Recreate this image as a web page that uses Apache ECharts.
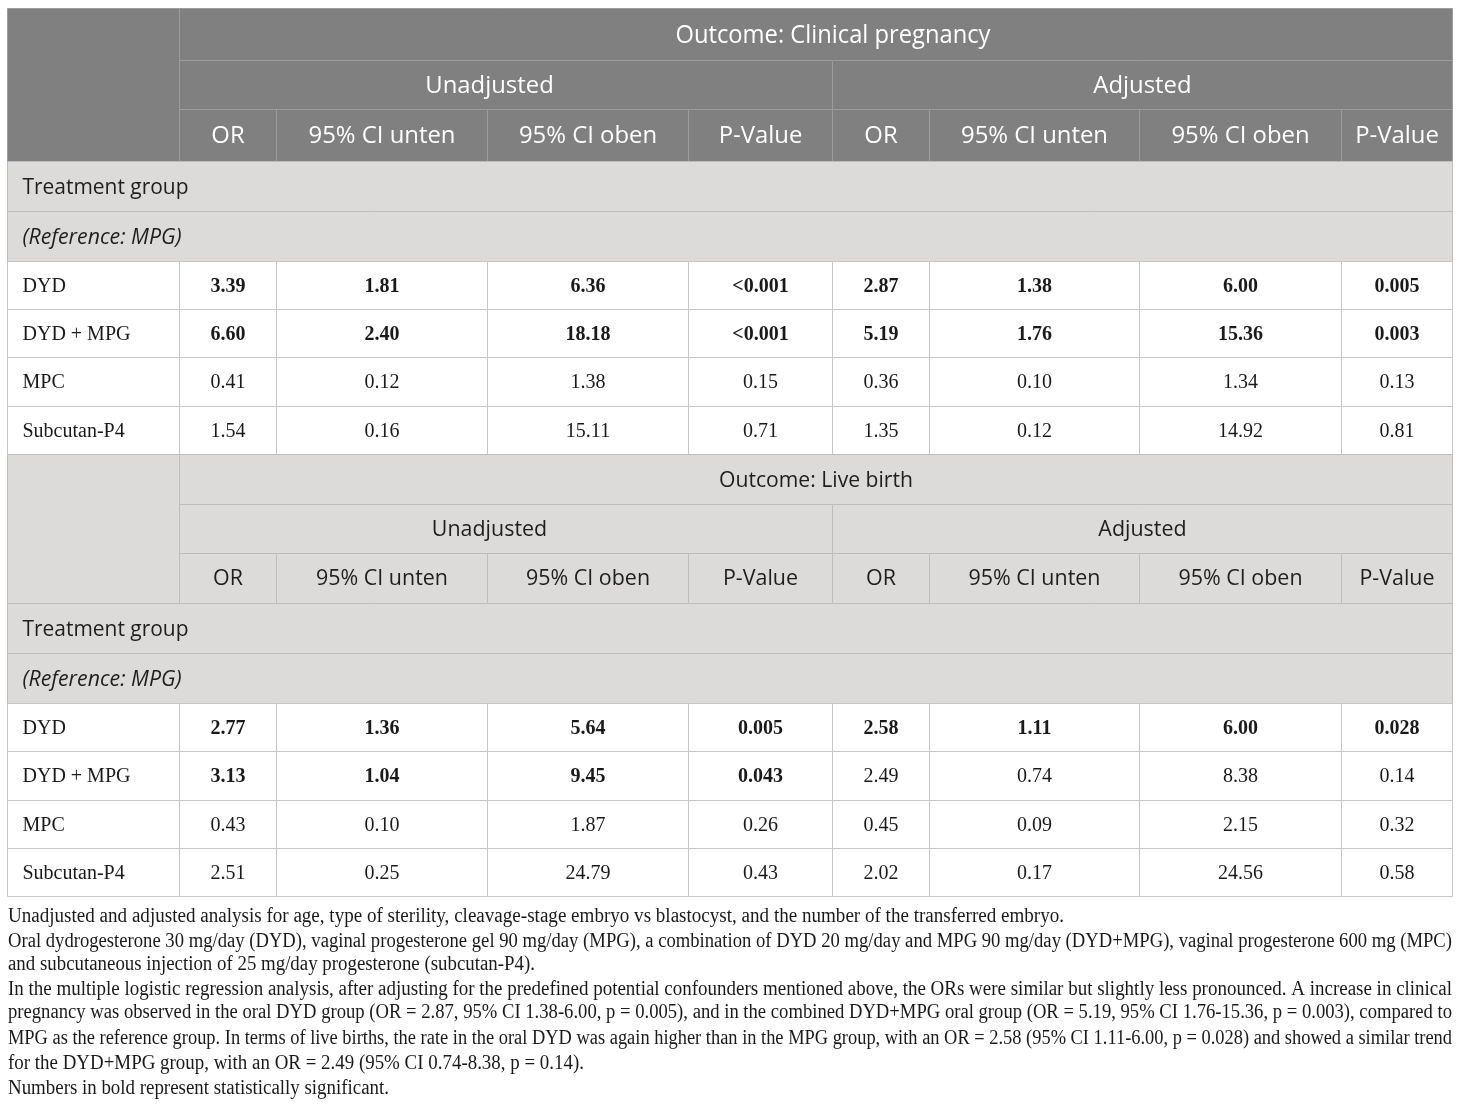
<!DOCTYPE html>
<html><head><meta charset="utf-8">
<script src="https://cdn.jsdelivr.net/npm/echarts@6/dist/echarts.min.js"></script>
<style>html,body{margin:0;padding:0;background:#fff}#c{width:1460px;height:1107px}</style>
</head><body><div id="c"></div>
<script>
// ---------------- data ----------------
const groups = ['DYD', 'DYD + MPG', 'MPC', 'Subcutan-P4'];
const statHeaders = ['OR', '95% CI unten', '95% CI oben', 'P-Value'];
const modelHeaders = ['Unadjusted', 'Adjusted'];
const outcomeTitles = ['Outcome: Clinical pregnancy', 'Outcome: Live birth'];
const sectionLabel = 'Treatment group';
const referenceLabel = '(Reference: MPG)';

// Outcome: Clinical pregnancy
const cpUnadjOR = [3.39, 6.60, 0.41, 1.54];
const cpUnadjLo = [1.81, 2.40, 0.12, 0.16];
const cpUnadjHi = [6.36, 18.18, 1.38, 15.11];
const cpUnadjP  = ['<0.001', '<0.001', '0.15', '0.71'];
const cpAdjOR   = [2.87, 5.19, 0.36, 1.35];
const cpAdjLo   = [1.38, 1.76, 0.10, 0.12];
const cpAdjHi   = [6.00, 15.36, 1.34, 14.92];
const cpAdjP    = ['0.005', '0.003', '0.13', '0.81'];
// Outcome: Live birth
const lbUnadjOR = [2.77, 3.13, 0.43, 2.51];
const lbUnadjLo = [1.36, 1.04, 0.10, 0.25];
const lbUnadjHi = [5.64, 9.45, 1.87, 24.79];
const lbUnadjP  = ['0.005', '0.043', '0.26', '0.43'];
const lbAdjOR   = [2.58, 2.49, 0.45, 2.02];
const lbAdjLo   = [1.11, 0.74, 0.09, 0.17];
const lbAdjHi   = [6.00, 8.38, 2.15, 24.56];
const lbAdjP    = ['0.028', '0.14', '0.32', '0.58'];
// statistically significant (bold)
const cpUnadjSig = [true, true, false, false];
const cpAdjSig   = [true, true, false, false];
const lbUnadjSig = [true, true, false, false];
const lbAdjSig   = [true, false, false, false];

const footnotes = [
  'Unadjusted and adjusted analysis for age, type of sterility, cleavage-stage embryo vs blastocyst, and the number of the transferred embryo.',
  'Oral dydrogesterone 30 mg/day (DYD), vaginal progesterone gel 90 mg/day (MPG), a combination of DYD 20 mg/day and MPG 90 mg/day (DYD+MPG), vaginal progesterone 600 mg (MPC)',
  'and subcutaneous injection of 25 mg/day progesterone (subcutan-P4).',
  'In the multiple logistic regression analysis, after adjusting for the predefined potential confounders mentioned above, the ORs were similar but slightly less pronounced. A increase in clinical',
  'pregnancy was observed in the oral DYD group (OR = 2.87, 95% CI 1.38-6.00, p = 0.005), and in the combined DYD+MPG oral group (OR = 5.19, 95% CI 1.76-15.36, p = 0.003), compared to',
  'MPG as the reference group. In terms of live births, the rate in the oral DYD was again higher than in the MPG group, with an OR = 2.58 (95% CI 1.11-6.00, p = 0.028) and showed a similar trend',
  'for the DYD+MPG group, with an OR = 2.49 (95% CI 0.74-8.38, p = 0.14).',
  'Numbers in bold represent statistically significant.'
];

// ---------------- layout (sizes only) ----------------
const COL_W = [172, 97, 211, 201, 144, 97, 210, 202, 111];
const ROW_H = [52, 49, 52, 50, 50, 48, 48, 49, 48, 50, 49, 50, 50, 50, 48, 49, 48, 48];
const FOOT_Y = [917, 942, 965, 990, 1013, 1039, 1064, 1089];
const FOOT_RIGHT = [1064, 1452, 535, 1452, 1452, 1452, 584, 389];
const FOOT_LEFT = 8;

const xEdge = [0]; COL_W.forEach(w => xEdge.push(xEdge[xEdge.length - 1] + w));
const yEdge = [0]; ROW_H.forEach(h => yEdge.push(yEdge[yEdge.length - 1] + h));

const mctx = document.createElement('canvas').getContext('2d');
function tw(text, font) { mctx.font = font; return mctx.measureText(text).width; }

const SANS = '"Open Sans", "Noto Sans", sans-serif';
const SERIF = '"Liberation Serif", "Times New Roman", serif';

const STY = {};
STY.dTitle = {fill: '#808080', stroke: '#9c9c9c', color: '#ffffff', font: '25px ' + SANS};
STY.dTitle.sx = 315 / tw('Outcome: Clinical pregnancy', STY.dTitle.font);
STY.dHdr = {fill: '#808080', stroke: '#9c9c9c', color: '#ffffff', font: '23px ' + SANS};
STY.dHdr.sx = 147 / tw('95% CI unten', STY.dHdr.font);
STY.lTitle = {fill: '#dcdbda', stroke: '#bdbdbd', color: '#1e1e1e', font: '22px ' + SANS};
STY.lTitle.sx = 194 / tw('Outcome: Live birth', STY.lTitle.font);
STY.lHdr = {fill: '#dcdbda', stroke: '#bdbdbd', color: '#1e1e1e', font: '21px ' + SANS};
STY.lHdr.sx = 132 / tw('95% CI unten', STY.lHdr.font);
STY.sec = {fill: '#dcdbda', stroke: '#bdbdbd', color: '#1e1e1e', font: '22px ' + SANS, left: true};
STY.sec.sx = 166 / tw('Treatment group', STY.sec.font);
STY.secI = {fill: '#dcdbda', stroke: '#bdbdbd', color: '#1e1e1e', font: 'italic 22px ' + SANS, left: true};
STY.secI.sx = 159 / tw('(Reference: MPG)', STY.secI.font);
STY.body = {fill: '#ffffff', stroke: '#c6c6c6', color: '#1a1a1a', font: '20px ' + SERIF, sx: 1};
STY.bodyB = {fill: '#ffffff', stroke: '#c6c6c6', color: '#1a1a1a', font: 'bold 20px ' + SERIF, sx: 1};
STY.bodyL = {fill: '#ffffff', stroke: '#c6c6c6', color: '#1a1a1a', font: '20px ' + SERIF, sx: 1, left: true};

// ---------------- build cells ----------------
const cells = [];
function addCell(c0, c1, r0, r1, text, style, dx) {
  cells.push({c0, c1, r0, r1, text, style, dx: dx || 0});
}
function fmt(v) { return typeof v === 'number' ? v.toFixed(2) : v; }

const blocks = [
  {title: outcomeTitles[0], dark: true, titleDx: 17,
   models: [[cpUnadjOR, cpUnadjLo, cpUnadjHi, cpUnadjP, cpUnadjSig], [cpAdjOR, cpAdjLo, cpAdjHi, cpAdjP, cpAdjSig]]},
  {title: outcomeTitles[1], dark: false, titleDx: 0,
   models: [[lbUnadjOR, lbUnadjLo, lbUnadjHi, lbUnadjP, lbUnadjSig], [lbAdjOR, lbAdjLo, lbAdjHi, lbAdjP, lbAdjSig]]}
];

blocks.forEach((b, k) => {
  const R = k * 9;
  const tS = b.dark ? 'dTitle' : 'lTitle';
  const hS = b.dark ? 'dHdr' : 'lHdr';
  addCell(0, 1, R, R + 3, '', hS);
  addCell(1, 9, R, R + 1, b.title, tS, b.titleDx);
  addCell(1, 5, R + 1, R + 2, modelHeaders[0], hS, -16.5);
  addCell(5, 9, R + 1, R + 2, modelHeaders[1], hS, 0);
  for (let m = 0; m < 2; m++) {
    statHeaders.forEach((h, j) => addCell(1 + m * 4 + j, 2 + m * 4 + j, R + 2, R + 3, h, hS));
  }
  addCell(0, 9, R + 3, R + 4, sectionLabel, 'sec');
  addCell(0, 9, R + 4, R + 5, referenceLabel, 'secI');
  groups.forEach((g, i) => {
    const r = R + 5 + i;
    addCell(0, 1, r, r + 1, g, 'bodyL');
    b.models.forEach((md, m) => {
      const bold = md[4][i];
      for (let j = 0; j < 4; j++) {
        const c = 1 + m * 4 + j;
        addCell(c, c + 1, r, r + 1, fmt(md[j][i]), bold ? 'bodyB' : 'body');
      }
    });
  });
});

const seriesData = cells.map((c, i) => [xEdge[c.c0], xEdge[c.c1], yEdge[c.r0], yEdge[c.r1], i]);

function renderCell(params, api) {
  const c = cells[api.value(4)];
  const st = STY[c.style];
  const p0 = api.coord([api.value(0), api.value(2)]);
  const p1 = api.coord([api.value(1), api.value(3)]);
  const x = Math.round(Math.min(p0[0], p1[0])) + 0.5;
  const y = Math.round(Math.min(p0[1], p1[1])) + 0.5;
  const w = Math.round(Math.abs(p1[0] - p0[0]));
  const h = Math.round(Math.abs(p1[1] - p0[1]));
  const children = [{
    type: 'rect', shape: {x, y, width: w, height: h},
    style: {fill: st.fill, stroke: st.stroke, lineWidth: 1}
  }];
  if (c.text) {
    const tx = st.left ? x + 15 : x + w / 2 + c.dx;
    children.push({
      type: 'text', x: tx, y: y + h / 2 + 1, scaleX: st.sx, scaleY: 1,
      style: {
        text: c.text, font: st.font, fill: st.color,
        align: st.left ? 'left' : 'center', textAlign: st.left ? 'left' : 'center',
        verticalAlign: 'middle', textVerticalAlign: 'middle'
      }
    });
  }
  return {type: 'group', children};
}

const FOOT_FONT = '20px ' + SERIF;
const graphics = footnotes.map((t, i) => ({
  type: 'text', x: FOOT_LEFT, y: FOOT_Y[i],
  scaleX: (FOOT_RIGHT[i] - FOOT_LEFT) / tw(t, FOOT_FONT), scaleY: 1,
  style: {text: t, font: FOOT_FONT, fill: '#1a1a1a', align: 'left', textAlign: 'left',
          verticalAlign: 'middle', textVerticalAlign: 'middle'}
}));

const chart = echarts.init(document.getElementById('c'), null, {renderer: 'canvas'});
chart.setOption({
  animation: false,
  backgroundColor: '#ffffff',
  grid: {left: 7, top: 8, width: xEdge[xEdge.length - 1], height: yEdge[yEdge.length - 1]},
  xAxis: {type: 'value', min: 0, max: xEdge[xEdge.length - 1], show: false},
  yAxis: {type: 'value', min: 0, max: yEdge[yEdge.length - 1], inverse: true, show: false},
  graphic: graphics,
  series: [{
    type: 'custom', renderItem: renderCell, clip: false,
    encode: {x: [0, 1], y: [2, 3]},
    data: seriesData, silent: true
  }]
});
</script>
</body></html>
